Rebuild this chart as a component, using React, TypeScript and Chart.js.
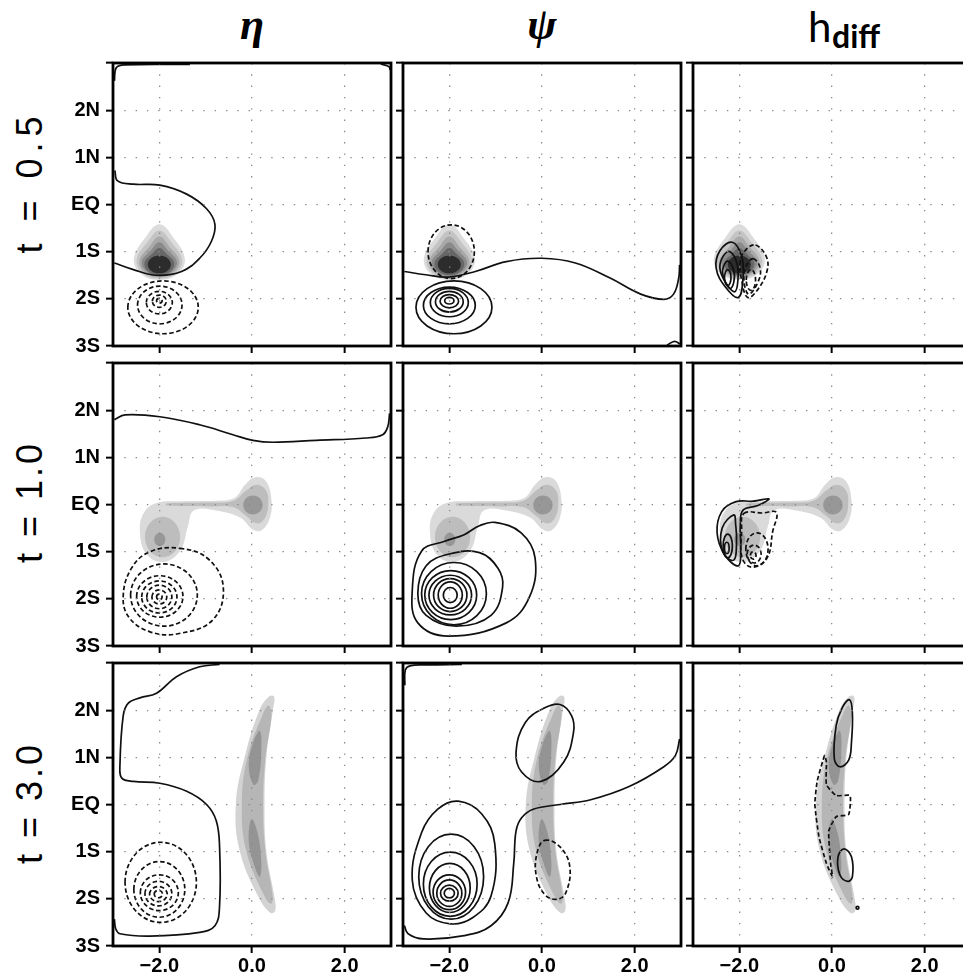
import React, { useEffect, useRef } from 'react';
import { Chart, registerables } from 'chart.js';

Chart.register(...registerables);

// ---------------- axes / labels ----------------
const X_TICKS = [-2, 0, 2];
const X_TICK_LABELS = ['−2.0', '0.0', '2.0'];
const Y_TICKS = [-3, -2, -1, 0, 1, 2, 3];
const Y_TICK_LABELS = ['3S', '2S', '1S', 'EQ', '1N', '2N', ''];
const ROW_LABELS = ['t = 0.5', 't = 1.0', 't = 3.0'];

// ---------------- shading (filled levels, outer -> inner) ----------------
const SHADE05_LOOPS = [
  [[-2.0, -0.42], [-1.7, -0.7], [-1.45, -1.15], [-1.6, -1.47], [-2.0, -1.6], [-2.4, -1.47], [-2.55, -1.15], [-2.3, -0.7]],
  [[-2.0, -0.55], [-1.74, -0.8], [-1.51, -1.17], [-1.64, -1.45], [-2.0, -1.57], [-2.36, -1.45], [-2.49, -1.17], [-2.26, -0.8]],
  [[-2.0, -0.68], [-1.78, -0.9], [-1.57, -1.19], [-1.68, -1.43], [-2.0, -1.54], [-2.32, -1.43], [-2.43, -1.19], [-2.22, -0.9]],
  [[-2.0, -0.8], [-1.81, -0.98], [-1.62, -1.21], [-1.72, -1.42], [-2.0, -1.52], [-2.28, -1.42], [-2.38, -1.21], [-2.19, -0.98]],
  [[-2.0, -0.92], [-1.84, -1.05], [-1.68, -1.23], [-1.75, -1.41], [-2.0, -1.5], [-2.25, -1.41], [-2.32, -1.23], [-2.16, -1.05]],
];
const SHADE05_ELL = [[-2.0, -1.27, 0.25, 0.19]];

const SHADE10_LOOPS = [
  [[-2.06, 0.03], [-1.5, 0.07], [-0.8, 0.08], [-0.38, 0.14], [-0.15, 0.42], [0.07, 0.58], [0.3, 0.5], [0.42, 0.1], [0.38, -0.3], [0.2, -0.55], [0.02, -0.53], [-0.25, -0.28], [-0.75, -0.13], [-1.25, -0.12], [-1.38, -0.45], [-1.55, -0.98], [-1.92, -1.22], [-2.28, -1.05], [-2.42, -0.57], [-2.33, -0.17]],
  [[-1.85, 0.02], [-0.9, 0.04], [-0.4, 0.08], [-0.12, 0.3], [0.1, 0.42], [0.3, 0.3], [0.35, 0.0], [0.27, -0.3], [0.1, -0.4], [-0.12, -0.25], [-0.4, -0.06], [-0.9, -0.04], [-1.85, -0.02]],
];
const SHADE10_ELL = [[-1.93, -0.69, 0.38, 0.43], [0.02, -0.01, 0.21, 0.2], [-1.99, -0.74, 0.12, 0.14]];

const SHADE30_LOOPS = [
  [[0.48, 2.28], [0.45, 2.0], [0.31, 1.0], [0.27, 0], [0.31, -1.0], [0.49, -2.0], [0.5, -2.25], [0.4, -2.3], [0.16, -2.0], [-0.26, -1.0], [-0.35, 0], [-0.16, 1.0], [0.16, 2.0], [0.38, 2.3]],
  [[0.36, 2.1], [0.42, 1.9], [0.29, 1.0], [0.24, 0], [0.29, -1.0], [0.44, -1.9], [0.42, -2.1], [0.3, -2.0], [-0.12, -1.0], [-0.22, 0], [-0.1, 1.0], [0.25, 1.95]],
  [[0.17, 1.56], [0.2, 1.1], [0.13, 0.5], [0.03, 0.42], [-0.07, 0.8], [0.02, 1.3]],
  [[-0.01, -0.31], [0.12, -0.6], [0.2, -1.2], [0.17, -1.53], [0.07, -1.35], [-0.07, -0.8]],
];
const SHADE30_ELL = [];

// ---------------- contours: t = 0.5 ----------------
const ETA05_SOLID_LINES = [
  [[-2.96, 0.72], [-2.9, 0.5], [-2.56, 0.43], [-1.99, 0.41], [-1.41, 0.22], [-0.98, -0.09], [-0.8, -0.42], [-0.88, -0.79], [-1.13, -1.14], [-1.52, -1.42], [-2.06, -1.5], [-2.56, -1.38], [-2.97, -1.24]],
  [[-2.97, 2.62], [-2.93, 2.9], [-2.75, 2.96], [-1.34, 2.97]],
  [[2.78, 2.98], [2.96, 2.92], [2.98, 2.85]],
];
const ETA05_DASH_ELL = [
  [-1.92, -2.18, 0.76, 0.56], [-1.99, -2.13, 0.48, 0.4], [-2.0, -2.08, 0.28, 0.24], [-2.0, -2.05, 0.15, 0.13], [-2.0, -2.04, 0.06, 0.05],
];
const PSI05_SOLID_LINES = [
  [[-2.97, -1.42], [-2.51, -1.49], [-2.02, -1.54], [-1.44, -1.42], [-0.77, -1.21], [0, -1.14], [0.72, -1.24], [1.47, -1.56], [2.13, -1.9], [2.63, -2.01], [2.84, -1.9], [2.95, -1.56], [2.97, -1.28]],
  [[2.7, -2.98], [2.86, -2.9], [2.98, -2.96]],
];
const PSI05_SOLID_ELL = [
  [-1.9, -2.18, 0.82, 0.56], [-2.0, -2.14, 0.56, 0.39], [-2.0, -2.08, 0.41, 0.3], [-2.0, -2.06, 0.3, 0.22], [-2.0, -2.05, 0.2, 0.14], [-2.0, -2.04, 0.1, 0.07],
];
const PSI05_DASH_ELL = [[-1.96, -1.0, 0.5, 0.57]];
const HD05_SOLID_LOOPS = [
  [[-2.15, -0.8], [-1.95, -1.1], [-1.92, -1.55], [-2.02, -1.97], [-2.3, -1.75], [-2.5, -1.35], [-2.42, -0.98]],
  [[-2.2, -1.0], [-2.05, -1.25], [-2.03, -1.6], [-2.1, -1.85], [-2.3, -1.65], [-2.42, -1.35], [-2.35, -1.1]],
  [[-2.25, -1.2], [-2.12, -1.4], [-2.12, -1.65], [-2.2, -1.78], [-2.32, -1.6], [-2.36, -1.38]],
];
const HD05_SOLID_ELL = [[-2.25, -1.55, 0.07, 0.17]];
const HD05_DASH_LOOPS = [
  [[-1.65, -0.86], [-1.42, -1.1], [-1.4, -1.4], [-1.6, -1.8], [-1.82, -1.97], [-1.95, -1.6], [-1.98, -1.2], [-1.85, -0.95]],
  [[-1.7, -1.15], [-1.55, -1.35], [-1.6, -1.65], [-1.8, -1.9], [-1.9, -1.6], [-1.85, -1.3]],
];
const HD05_DASH_ELL = [[-1.75, -1.6, 0.1, 0.22]];

// ---------------- contours: t = 1.0 ----------------
const ETA10_SOLID_LINES = [
  [[-2.97, 1.8], [-2.74, 1.9], [-1.99, 1.86], [-1.13, 1.69], [-0.41, 1.48], [0.02, 1.36], [0.45, 1.32], [1.39, 1.36], [2.46, 1.41], [2.82, 1.48], [2.93, 1.65], [2.97, 1.93]],
];
const ETA10_DASH_LOOPS = [
  [[-1.56, -0.93], [-0.95, -1.15], [-0.62, -1.75], [-0.85, -2.45], [-1.6, -2.74], [-2.2, -2.7], [-2.65, -2.4], [-2.78, -1.95], [-2.6, -1.35], [-2.2, -1.0]],
];
const ETA10_DASH_ELL = [
  [-1.9, -1.92, 0.72, 0.66], [-1.99, -1.95, 0.5, 0.44], [-2.0, -1.96, 0.38, 0.34], [-2.0, -1.96, 0.27, 0.25], [-2.0, -1.96, 0.16, 0.15], [-2.0, -1.96, 0.06, 0.06],
];
const PSI10_SOLID_LOOPS = [
  [[-1.02, -0.38], [-0.45, -0.6], [-0.15, -1.13], [-0.27, -1.96], [-0.77, -2.51], [-2.02, -2.79], [-2.68, -2.51], [-2.8, -1.82], [-2.6, -0.99], [-2.1, -0.78], [-1.68, -0.64], [-1.35, -0.45]],
  [[-1.35, -1.02], [-0.95, -1.35], [-0.85, -1.75], [-1.1, -2.35], [-1.85, -2.58], [-2.5, -2.35], [-2.68, -1.89], [-2.5, -1.3], [-2.0, -1.05]],
];
const PSI10_SOLID_ELL = [
  [-1.9, -1.89, 0.7, 0.66], [-1.97, -1.92, 0.56, 0.52], [-1.98, -1.92, 0.46, 0.42], [-1.98, -1.92, 0.36, 0.35], [-1.98, -1.92, 0.26, 0.28], [-1.98, -1.92, 0.15, 0.16],
];
const HD10_SOLID_LOOPS = [
  [[-1.36, 0.12], [-1.7, 0.07], [-2.07, 0.06], [-2.38, -0.15], [-2.48, -0.6], [-2.32, -1.06], [-2.02, -1.3], [-1.97, -0.95], [-1.98, -0.45], [-1.92, -0.12], [-1.6, -0.02]],
  [[-2.12, -0.22], [-2.37, -0.5], [-2.36, -1.0], [-2.12, -1.18], [-2.06, -0.8], [-2.08, -0.42]],
];
const HD10_SOLID_ELL = [[-2.25, -0.88, 0.1, 0.25], [-2.27, -0.92, 0.05, 0.12]];
const HD10_DASH_LOOPS = [
  [[-1.9, -0.19], [-1.5, -0.18], [-1.2, -0.17], [-1.28, -0.57], [-1.4, -1.13], [-1.73, -1.33], [-1.94, -1.13], [-1.95, -0.57]],
];
const HD10_DASH_ELL = [[-1.62, -0.95, 0.24, 0.35], [-1.68, -1.05, 0.15, 0.19], [-1.7, -1.08, 0.06, 0.08]];

// ---------------- contours: t = 3.0 ----------------
const ETA30_SOLID_LINES = [
  [[-0.7, 2.97], [-1.13, 2.92], [-1.63, 2.71], [-2.06, 2.36], [-2.42, 2.26], [-2.67, 2.15], [-2.78, 1.88], [-2.85, 0.83], [-2.81, 0.56], [-2.56, 0.49], [-1.99, 0.45], [-1.41, 0.28], [-0.98, 0], [-0.77, -0.35], [-0.7, -0.9], [-0.7, -2.15], [-0.8, -2.57], [-1.13, -2.71], [-2.2, -2.79], [-2.85, -2.74], [-2.94, -2.64], [-2.97, -2.43]],
];
const ETA30_DASH_ELL = [
  [-1.97, -1.65, 0.77, 0.85], [-2.0, -1.8, 0.55, 0.59], [-2.0, -1.87, 0.41, 0.38], [-2.02, -1.89, 0.29, 0.26], [-2.02, -1.9, 0.19, 0.16], [-2.02, -1.9, 0.09, 0.08],
];
const PSI30_SOLID_LINES = [
  [[-1.73, 2.97], [-2.5, 2.96], [-2.85, 2.94], [-2.95, 2.85], [-2.96, 2.53]],
  [[-2.97, -2.57], [-2.89, -2.74], [-2.56, -2.85], [-1.68, -2.78], [-1.1, -2.57], [-0.73, -2.08], [-0.61, -1.25], [-0.56, -0.56], [-0.44, -0.28], [-0.19, -0.1], [0.39, 0], [1.05, 0.1], [1.88, 0.38], [2.63, 0.8], [2.88, 1.04], [2.97, 1.39]],
];
const PSI30_SOLID_LOOPS = [
  [[-1.81, 0.07], [-1.3, -0.2], [-1.02, -0.83], [-1.1, -1.94], [-1.5, -2.4], [-1.98, -2.53], [-2.5, -2.3], [-2.8, -1.6], [-2.6, -0.6], [-2.25, -0.1]],
  [[0.39, 2.12], [0.64, 1.88], [0.68, 1.53], [0.47, 0.9], [-0.02, 0.49], [-0.44, 0.69], [-0.56, 1.11], [-0.36, 1.74], [0.06, 2.05]],
];
const PSI30_SOLID_ELL = [
  [-1.96, -1.53, 0.7, 0.9], [-1.98, -1.69, 0.58, 0.68], [-1.99, -1.77, 0.44, 0.52], [-2.0, -1.86, 0.35, 0.37], [-2.0, -1.88, 0.27, 0.28], [-2.0, -1.88, 0.19, 0.17], [-2.0, -1.88, 0.11, 0.1],
];
const PSI30_DASH_LOOPS = [
  [[0.06, -0.76], [0.39, -0.9], [0.6, -1.32], [0.51, -1.88], [0.31, -2.01], [0.06, -1.91], [-0.12, -1.53], [-0.11, -1.04]],
];
const HD30_SOLID_LOOPS = [
  [[0.38, 2.22], [0.44, 1.94], [0.42, 1.32], [0.36, 0.94], [0.17, 0.8], [0.05, 0.97], [0.09, 1.67], [0.22, 2.05]],
  [[0.26, -0.94], [0.42, -1.11], [0.44, -1.53], [0.34, -1.63], [0.17, -1.49], [0.13, -1.11]],
];
const HD30_SOLID_ELL = [[0.55, -2.19, 0.03, 0.03]];
const HD30_DASH_SHARP = [
  [[-0.16, 1.04], [-0.32, 0.49], [-0.37, 0], [-0.28, -0.69], [-0.12, -1.25], [0.01, -1.53], [-0.03, -1.25], [-0.07, -0.56], [0.09, -0.26], [0.36, -0.21], [0.39, 0.19], [0.09, 0.19], [-0.12, 0.42], [-0.12, 0.9]],
];

// ---------------- styles ----------------
const SHADE_STYLES = [
  { loopColors: ['#dcdcdc', '#c4c4c4', '#a9a9a9', '#8a8a8a', '#676767'], ellColors: ['#2c2c2c'] },
  { loopColors: ['#dadada', '#bdbdbd'], ellColors: ['#bdbdbd', '#979797', '#979797'] },
  { loopColors: ['#d3d3d3', '#b6b6b6', '#949494', '#949494'], ellColors: [] },
];
const SHADES = [
  { loops: SHADE05_LOOPS, ell: SHADE05_ELL },
  { loops: SHADE10_LOOPS, ell: SHADE10_ELL },
  { loops: SHADE30_LOOPS, ell: SHADE30_ELL },
];

const PANELS = [
  [
    { solidLines: ETA05_SOLID_LINES, dashEll: ETA05_DASH_ELL },
    { solidLines: PSI05_SOLID_LINES, solidEll: PSI05_SOLID_ELL, dashEll: PSI05_DASH_ELL },
    { solidLoops: HD05_SOLID_LOOPS, solidEll: HD05_SOLID_ELL, dashLoops: HD05_DASH_LOOPS, dashEll: HD05_DASH_ELL },
  ],
  [
    { solidLines: ETA10_SOLID_LINES, dashLoops: ETA10_DASH_LOOPS, dashEll: ETA10_DASH_ELL },
    { solidLoops: PSI10_SOLID_LOOPS, solidEll: PSI10_SOLID_ELL },
    { solidLoops: HD10_SOLID_LOOPS, solidEll: HD10_SOLID_ELL, dashLoops: HD10_DASH_LOOPS, dashEll: HD10_DASH_ELL },
  ],
  [
    { solidLines: ETA30_SOLID_LINES, dashEll: ETA30_DASH_ELL },
    { solidLines: PSI30_SOLID_LINES, solidLoops: PSI30_SOLID_LOOPS, solidEll: PSI30_SOLID_ELL, dashLoops: PSI30_DASH_LOOPS },
    { solidLoops: HD30_SOLID_LOOPS, solidEll: HD30_SOLID_ELL, dashSharp: HD30_DASH_SHARP },
  ],
];

// layout
const COL_LEFT = [113, 403, 693];
const ROW_TOP = [59, 359, 659];
const PLOT_W = 278;
const PLOT_H = 287;
const AXW = 60;
const PADT = 14;
const PADR = 4;
const AXH = 32;
const CW = AXW + PLOT_W + PADR;
const CH = PADT + PLOT_H + AXH;

const INK = '#101010';
const CLEAR = 'rgba(0,0,0,0)';
const DASH = [4.5, 2.6];
const LINE_W = 1.7;
const GRID_COLOR = '#8a8a8a';
const GRID_DASH = [1.4, 9.9];
const TICK_FONT = { family: '"Liberation Sans", Arial, sans-serif', size: 20, weight: 'bold' };

const xy = (pts: number[][]) => pts.map(([x, y]) => ({ x, y }));
const ellKeys = ([cx, cy, rx, ry]: number[]) => [[cx - rx, cy], [cx, cy + ry], [cx + rx, cy], [cx, cy - ry]];
const wrap = (pts: number[][]) => [pts[pts.length - 1], ...pts, pts[0], pts[1]];

function fillDs(pts: number[][], color: string, tension: number) {
  return { data: xy(wrap(pts)), fill: 'shape', backgroundColor: color, borderColor: CLEAR, borderWidth: 0, tension, pointRadius: 0 };
}
function loopDs(pts: number[][], dash: boolean, tension: number) {
  const data = wrap(pts);
  const last = data.length - 1;
  return {
    data: xy(data), fill: false, borderColor: INK, borderWidth: LINE_W, borderDash: dash ? DASH : [], tension, pointRadius: 0,
    segment: { borderColor: (c: any) => (c.p0DataIndex === 0 || c.p1DataIndex === last ? CLEAR : undefined) },
  };
}
function lineDs(pts: number[][], dash: boolean, tension: number) {
  return { data: xy(pts), fill: false, borderColor: INK, borderWidth: LINE_W, borderDash: dash ? DASH : [], tension, pointRadius: 0 };
}

function buildDatasets(row: number, spec: any) {
  const list: any[] = [];
  const sh = SHADES[row];
  const st = SHADE_STYLES[row];
  sh.loops.forEach((p, i) => list.push(fillDs(p, st.loopColors[i], 0.4)));
  sh.ell.forEach((e, i) => list.push(fillDs(ellKeys(e), st.ellColors[i], 0.55)));
  (spec.solidLines || []).forEach((p: number[][]) => list.push(lineDs(p, false, 0.4)));
  (spec.solidLoops || []).forEach((p: number[][]) => list.push(loopDs(p, false, 0.4)));
  (spec.solidEll || []).forEach((e: number[]) => list.push(loopDs(ellKeys(e), false, 0.55)));
  (spec.dashLoops || []).forEach((p: number[][]) => list.push(loopDs(p, true, 0.4)));
  (spec.dashSharp || []).forEach((p: number[][]) => list.push(loopDs(p, true, 0.15)));
  (spec.dashEll || []).forEach((e: number[]) => list.push(loopDs(ellKeys(e), true, 0.55)));
  const n = list.length;
  return list.map((d, i) => ({ ...d, order: n - i }));
}

const framePlugin = {
  id: 'frame',
  afterDraw(chart: any) {
    const { ctx, chartArea: a } = chart;
    ctx.save();
    ctx.lineWidth = 2.8;
    ctx.strokeStyle = '#000';
    ctx.strokeRect(a.left, a.top, a.right - a.left, a.bottom - a.top);
    ctx.restore();
  },
};

function Panel({ row, col }: { row: number; col: number }) {
  const ref = useRef<HTMLCanvasElement>(null);
  useEffect(() => {
    const chart = new Chart(ref.current as HTMLCanvasElement, {
      type: 'line',
      data: { datasets: buildDatasets(row, PANELS[row][col]) as any },
      options: {
        animation: false,
        responsive: false,
        events: [],
        layout: { padding: { top: PADT, right: PADR, left: 0, bottom: 0 } },
        plugins: { legend: { display: false }, tooltip: { enabled: false }, title: { display: false } },
        scales: {
          x: {
            type: 'linear', min: -3, max: 3,
            afterBuildTicks: (s: any) => { s.ticks = X_TICKS.map((value) => ({ value })); },
            afterFit: (s: any) => { s.height = AXH; },
            ticks: {
              autoSkip: false, maxRotation: 0, minRotation: 0, padding: 1, color: '#000', font: TICK_FONT as any,
              callback: (v: any) => (row === 2 ? X_TICK_LABELS[X_TICKS.indexOf(Number(v))] : ''),
            },
            grid: { z: 1, color: GRID_COLOR, lineWidth: 1.3, tickLength: 7, tickColor: '#000', tickWidth: 2, tickBorderDash: [] } as any,
            border: { display: false, dash: GRID_DASH },
          },
          y: {
            type: 'linear', min: -3, max: 3,
            afterBuildTicks: (s: any) => { s.ticks = Y_TICKS.map((value) => ({ value })); },
            afterFit: (s: any) => { s.width = AXW; },
            ticks: {
              autoSkip: false, padding: 6, color: '#000', font: TICK_FONT as any,
              callback: (v: any) => (col === 0 ? Y_TICK_LABELS[Y_TICKS.indexOf(Number(v))] : ''),
            },
            grid: { z: 1, color: GRID_COLOR, lineWidth: 1.3, tickLength: 7, tickColor: '#000', tickWidth: 2, tickBorderDash: [] } as any,
            border: { display: false, dash: GRID_DASH },
          },
        },
      } as any,
      plugins: [framePlugin],
    });
    return () => chart.destroy();
  }, [row, col]);
  return (
    <canvas
      ref={ref}
      width={CW}
      height={CH}
      style={{ position: 'absolute', left: COL_LEFT[col] - AXW, top: ROW_TOP[row] - PADT, width: CW, height: CH }}
    />
  );
}

const ROW_LABEL_CENTER = [182, 502, 803];

export default function App() {
  const cells = [];
  for (let r = 0; r < 3; r++) for (let c = 0; c < 3; c++) cells.push(<Panel key={`${r}-${c}`} row={r} col={c} />);
  return (
    <div style={{ position: 'absolute', left: 0, top: 0, width: 963, height: 977, overflow: 'hidden', background: '#fff' }}>
      <div style={{ position: 'absolute', left: 252, top: 3, transform: 'translateX(-50%)', font: 'italic bold 44px "Liberation Serif", serif', lineHeight: '44px', color: '#000' }}>η</div>
      <div style={{ position: 'absolute', left: 542, top: 3, transform: 'translateX(-50%)', font: 'italic bold 44px "Liberation Serif", serif', lineHeight: '44px', color: '#000' }}>ψ</div>
      <div style={{ position: 'absolute', left: 808, top: 5, font: '42px Lato, sans-serif', lineHeight: '42px', color: '#000' }}>h</div>
      <div style={{ position: 'absolute', left: 832, top: 20, font: 'bold 32px Lato, sans-serif', lineHeight: '32px', color: '#000' }}>diff</div>
      {ROW_LABELS.map((t, i) => (
        <div
          key={t}
          style={{
            position: 'absolute', left: 30, top: ROW_LABEL_CENTER[i], transform: 'translate(-50%, -50%) rotate(-90deg)',
            font: '36px "Liberation Sans", Arial, sans-serif', lineHeight: '36px', whiteSpace: 'nowrap', letterSpacing: i === 0 ? 6 : 3, color: '#000',
          }}
        >
          {t}
        </div>
      ))}
      {cells}
    </div>
  );
}
